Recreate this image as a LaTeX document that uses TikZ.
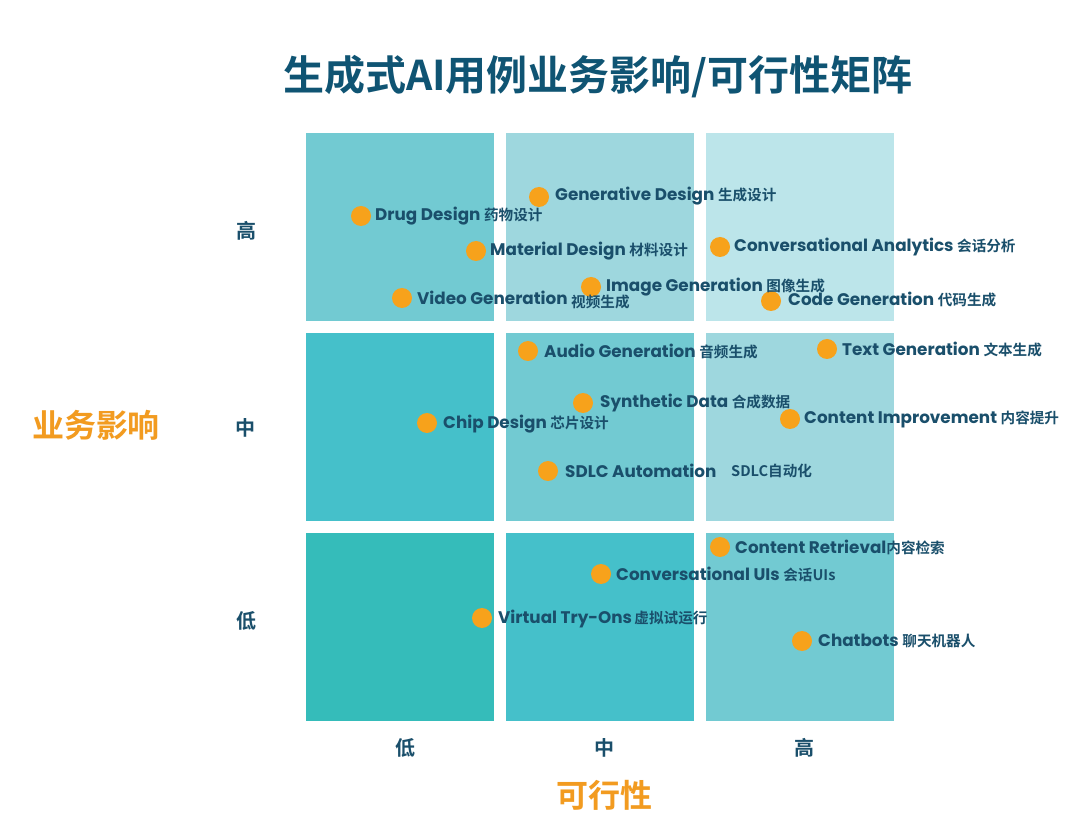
\documentclass[tikz,border=0pt]{standalone}
\usepackage{fontspec}
\newfontfamily\cjk{Noto Sans CJK SC}[BoldFont=* Bold]
\newfontfamily\lat{Poppins}
\definecolor{ink}{HTML}{1A4F6B}
\definecolor{ttl}{HTML}{0F5473}
\definecolor{org}{HTML}{F7A21B}
\definecolor{axo}{HTML}{F29B20}
\definecolor{cA}{HTML}{35BCBA}
\definecolor{cB}{HTML}{45C0CA}
\definecolor{cC}{HTML}{72CAD2}
\definecolor{cD}{HTML}{9ED7DE}
\definecolor{cE}{HTML}{BCE5EA}
\newcommand{\lab}[2]{{\lat\bfseries\fontsize{16.8}{20}\selectfont #1}{\cjk\bfseries\fontsize{14.6}{17}\selectfont #2}}
\tikzset{
  cell/.style={draw=none,minimum width=188pt,minimum height=188pt,inner sep=0pt},
  dot/.style={circle,fill=org,minimum size=20pt,inner sep=0pt},
  lbl/.style={anchor=west,inner sep=0pt,text=ink},
  tick/.style={text=ink,font=\cjk\bfseries\fontsize{20}{24}\selectfont},
  axis/.style={text=axo,font=\cjk\bfseries\fontsize{32}{36}\selectfont},
}
\begin{document}
\begin{tikzpicture}[x=1pt,y=-1pt]
\useasboundingbox[fill=white] (0,0) rectangle (1080,826);
% title
\node[text=ttl,font=\cjk\bfseries\fontsize{41}{48}\selectfont] (title) at (598,77) {生成式AI用例业务影响/可行性矩阵};
% cells
\node[cell,fill=cC] (c11) at (400,227) {};
\node[cell,fill=cD] (c12) at (600,227) {};
\node[cell,fill=cE] (c13) at (799.5,227) {};
\node[cell,fill=cB] (c21) at (400,427) {};
\node[cell,fill=cC] (c22) at (600,427) {};
\node[cell,fill=cD] (c23) at (799.5,427) {};
\node[cell,fill=cA] (c31) at (400,627) {};
\node[cell,fill=cB] (c32) at (600,627) {};
\node[cell,fill=cC] (c33) at (799.5,627) {};
% axis ticks
\node[tick] (yh) at (246,231) {高};
\node[tick] (ym) at (245,428) {中};
\node[tick] (yl) at (246,621) {低};
\node[tick] (xl) at (405,748) {低};
\node[tick] (xm) at (604,748) {中};
\node[tick] (xh) at (804,748) {高};
\node[axis] (ylab) at (96,425) {业务影响};
\node[axis] (xlab) at (604,795) {可行性};
% dots
\node[dot] (d1) at (361,216) {};
\node[dot] (d2) at (539,197) {};
\node[dot] (d3) at (476,251) {};
\node[dot] (d4) at (720,247) {};
\node[dot] (d5) at (591,287) {};
\node[dot] (d6) at (402,298) {};
\node[dot] (d7) at (771,301) {};
\node[dot] (d8) at (528,351) {};
\node[dot] (d9) at (827,349) {};
\node[dot] (d10) at (583,403) {};
\node[dot] (d11) at (427,423) {};
\node[dot] (d12) at (790,419) {};
\node[dot] (d13) at (548,471) {};
\node[dot] (d14) at (720,547) {};
\node[dot] (d15) at (601,574) {};
\node[dot] (d16) at (482,618) {};
\node[dot] (d17) at (802,641) {};
% labels
\node[lbl] (t1) at (375,216) {\lab{Drug Design }{药物设计}};
\node[lbl] (t2) at (555,196) {\lab{Generative Design }{生成设计}};
\node[lbl] (t3) at (490,251) {\lab{Material Design }{材料设计}};
\node[lbl] (t4) at (734,247) {\lab{Conversational Analytics }{会话分析}};
\node[lbl] (t5) at (606,287) {\lab{Image Generation }{图像生成}};
\node[lbl] (t6) at (417,298) {\lab{Video Generation}{}};
\node[lbl] (t6b) at (571,302) {\lab{}{视频生成}};
\node[lbl] (t7) at (788,300) {\lab{Code Generation }{代码生成}};
\node[lbl] (t8) at (544,352) {\lab{Audio Generation }{音频生成}};
\node[lbl] (t9) at (842,350) {\lab{Text Generation }{文本生成}};
\node[lbl] (t10) at (600,403) {\lab{Synthetic Data }{合成数据}};
\node[lbl] (t11) at (443,424) {\lab{Chip Design }{芯片设计}};
\node[lbl] (t12) at (804,419) {\lab{Content Improvement }{内容提升}};
\node[lbl] (t13) at (565,471) {\lab{SDLC Automation}{}};
\node[lbl] (t13b) at (731,471) {\lab{}{SDLC自动化}};
\node[lbl] (t14) at (735,547) {\lab{Content Retrieval}{内容检索}};
\node[lbl] (t15) at (616,574) {\lab{Conversational UIs }{会话UIs}};
\node[lbl] (t16) at (498,619) {\lab{Virtual Try-Ons}{\,虚拟试运行}};
\node[lbl] (t17) at (818,641) {\lab{Chatbots }{聊天机器人}};
\end{tikzpicture}
\end{document}
